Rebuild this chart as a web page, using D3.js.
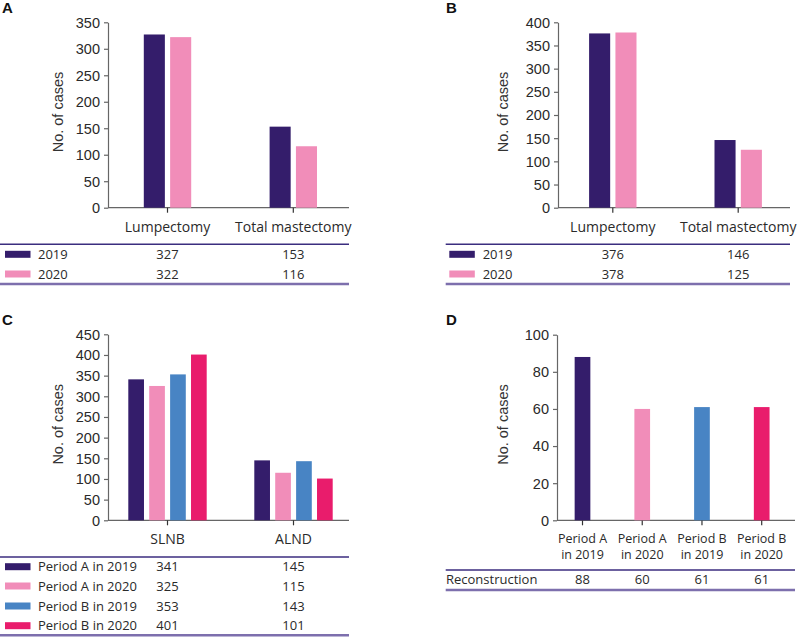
<!DOCTYPE html>
<html>
<head>
<meta charset="utf-8">
<script src="https://cdn.jsdelivr.net/npm/d3@7"></script>
<style>
  html, body { margin: 0; padding: 0; background: #fff; }
  svg { display: block; }
</style>
</head>
<body>
<svg id="chart" width="798" height="638"></svg>
<script>
// ---------- DATA ----------
const colors = ["#341d6b", "#f18db9", "#4884c4", "#e91c6c"];

const aCategories = ["Lumpectomy", "Total mastectomy"];
const aSeries = ["2019", "2020"];
const a2019 = [327, 153];
const a2020 = [322, 116];
const aTicks = [0, 50, 100, 150, 200, 250, 300, 350];

const bCategories = ["Lumpectomy", "Total mastectomy"];
const bSeries = ["2019", "2020"];
const b2019 = [376, 146];
const b2020 = [378, 125];
const bTicks = [0, 50, 100, 150, 200, 250, 300, 350, 400];

const cCategories = ["SLNB", "ALND"];
const cSeries = ["Period A in 2019", "Period A in 2020", "Period B in 2019", "Period B in 2020"];
const cPeriodA2019 = [341, 145];
const cPeriodA2020 = [325, 115];
const cPeriodB2019 = [353, 143];
const cPeriodB2020 = [401, 101];
const cTicks = [0, 50, 100, 150, 200, 250, 300, 350, 400, 450];

const dCategories = [["Period A", "in 2019"], ["Period A", "in 2020"], ["Period B", "in 2019"], ["Period B", "in 2020"]];
const dRowLabel = "Reconstruction";
const dValues = [88, 60, 61, 61];
const dTicks = [0, 20, 40, 60, 80, 100];

// ---------- DRAWING ----------
const svg = d3.select("#chart");
const axisColor = "#666";
const textColor = "#2a2a2a";
const tickFont = "'Liberation Sans', Arial, sans-serif";
const labelFont = "'Open Sans', sans-serif";
const tableSize = 13;

function panelLetter(letter, x, y) {
  svg.append("text").attr("x", x).attr("y", y)
    .attr("font-family", "'Liberation Sans', Arial, sans-serif")
    .attr("font-weight", "bold").attr("font-size", 15)
    .attr("fill", "#111").text(letter);
}

function yAxisBlock(p) {
  const y = d3.scaleLinear().domain([0, p.yMax]).range([p.y0, p.yTop]);
  const ax = d3.axisLeft(y).tickValues(p.ticks).tickSize(4).tickPadding(4).tickSizeOuter(0);
  const g = svg.append("g").attr("transform", `translate(${p.axisX},0)`).call(ax);
  g.select(".domain").attr("stroke", axisColor).attr("stroke-width", 1.2);
  g.selectAll(".tick line").attr("stroke", axisColor).attr("stroke-width", 1.2);
  g.selectAll(".tick text").attr("font-family", tickFont).attr("font-size", 14.5)
    .attr("fill", textColor).attr("dy", "0.34em");
  svg.append("text")
    .attr("transform", `translate(${p.titleX},${(p.y0 + p.yTop) / 2 - 3}) rotate(-90)`)
    .attr("text-anchor", "middle").attr("dy", "0.35em")
    .attr("font-family", tickFont).attr("font-size", 14.5).attr("fill", "#333")
    .text("No. of cases");
  return y;
}

function xAxisBlock(p, x, catKeys) {
  svg.append("line").attr("x1", p.axisX).attr("x2", p.axisEnd)
    .attr("y1", p.y0).attr("y2", p.y0)
    .attr("stroke", axisColor).attr("stroke-width", 1.2);
  svg.append("g").selectAll("line").data(catKeys).join("line")
    .attr("x1", d => x(d)).attr("x2", d => x(d))
    .attr("y1", p.y0).attr("y2", p.y0 + 5)
    .attr("stroke", "#333").attr("stroke-width", 1.2);
}

function tableLines(t) {
  svg.append("line").attr("x1", t.x1).attr("x2", t.x2).attr("y1", t.top).attr("y2", t.top)
    .attr("stroke", "#3b2d7f").attr("stroke-width", 1.5);
  svg.append("line").attr("x1", t.x1).attr("x2", t.x2).attr("y1", t.bottom).attr("y2", t.bottom)
    .attr("stroke", "#7d6fad").attr("stroke-width", 2.5);
}

function groupedPanel(p) {
  panelLetter(p.letter, p.letterX, p.letterY);
  const y = yAxisBlock(p);
  const x = d3.scalePoint().domain(p.categories).range(p.centers);
  const inner = d3.scaleBand().domain(p.series).range([-p.groupW / 2, p.groupW / 2]).paddingInner(p.pad);
  xAxisBlock(p, x, p.categories);

  const rows = p.series.map((s, i) => ({ name: s, color: colors[i], values: p.values[i] }));
  rows.forEach(r => {
    svg.append("g").selectAll("rect").data(p.categories.map((c, j) => ({ c, v: r.values[j] })))
      .join("rect")
      .attr("x", d => x(d.c) + inner(r.name))
      .attr("width", inner.bandwidth())
      .attr("y", d => y(d.v))
      .attr("height", d => p.y0 - y(d.v))
      .attr("fill", r.color);
  });

  svg.append("g").selectAll("text").data(p.categories).join("text")
    .attr("x", d => x(d)).attr("y", p.catY)
    .attr("text-anchor", "middle").attr("dy", "0.35em")
    .attr("font-family", labelFont).attr("font-size", 14).attr("fill", textColor)
    .text(d => d);

  const t = p.table;
  tableLines(t);
  rows.forEach((r, i) => {
    const ry = t.rows[i];
    svg.append("rect").attr("x", t.swX).attr("y", ry - 3.5).attr("width", 25.5).attr("height", 7)
      .attr("fill", r.color);
    svg.append("text").attr("x", t.lblX).attr("y", ry).attr("dy", "0.35em")
      .attr("font-family", labelFont).attr("font-size", tableSize).attr("fill", textColor)
      .text(r.name);
    svg.append("g").selectAll("text").data(p.categories.map((c, j) => ({ c, v: r.values[j] })))
      .join("text")
      .attr("x", d => x(d.c)).attr("y", ry).attr("dy", "0.35em")
      .attr("text-anchor", "middle")
      .attr("font-family", labelFont).attr("font-size", tableSize).attr("fill", textColor)
      .text(d => d.v);
  });
}

// Panel A
groupedPanel({
  letter: "A", letterX: 2, letterY: 13,
  axisX: 108, axisEnd: 349, yTop: 22.3, y0: 207.7, yMax: 350, ticks: aTicks, titleX: 58,
  categories: aCategories, centers: [167.5, 293.3], series: aSeries, values: [a2019, a2020],
  groupW: 47.4, pad: 0.2, catY: 226.7,
  table: { x1: 0, x2: 349, top: 244.3, bottom: 284, rows: [254.3, 274], swX: 5, lblX: 38 }
});

// Panel B
groupedPanel({
  letter: "B", letterX: 446, letterY: 13,
  axisX: 558, axisEnd: 790, yTop: 22.3, y0: 207.7, yMax: 400, ticks: bTicks, titleX: 503.3,
  categories: bCategories, centers: [612.8, 738.2], series: bSeries, values: [b2019, b2020],
  groupW: 47.4, pad: 0.2, catY: 226.7,
  table: { x1: 445.7, x2: 790, top: 244.3, bottom: 284, rows: [254.3, 274], swX: 449.3, lblX: 482.7 }
});

// Panel C
groupedPanel({
  letter: "C", letterX: 2, letterY: 325,
  axisX: 108, axisEnd: 349, yTop: 334.3, y0: 520.3, yMax: 450, ticks: cTicks, titleX: 58,
  categories: cCategories, centers: [167.5, 293.5], series: cSeries,
  values: [cPeriodA2019, cPeriodA2020, cPeriodB2019, cPeriodB2020],
  groupW: 78.4, pad: 0.25, catY: 539,
  table: { x1: 0, x2: 349, top: 557, bottom: 635.3, rows: [566.7, 586, 606, 625.7], swX: 5, lblX: 38 }
});

// Panel D
(function () {
  const p = {
    axisX: 557, axisEnd: 795, yTop: 334.7, y0: 520.3, yMax: 100, ticks: dTicks, titleX: 503.3
  };
  panelLetter("D", 446, 325);
  const y = yAxisBlock(p);
  const keys = dCategories.map(d => d.join(" "));
  const x = d3.scalePoint().domain(keys).range([582.5, 761.7]);
  xAxisBlock(p, x, keys);
  const bw = 15.7;
  svg.append("g").selectAll("rect").data(keys.map((k, i) => ({ k, v: dValues[i], c: colors[i] })))
    .join("rect")
    .attr("x", d => x(d.k) - bw / 2).attr("width", bw)
    .attr("y", d => y(d.v)).attr("height", d => p.y0 - y(d.v))
    .attr("fill", d => d.c);
  // two-line category labels, each line its own text
  dCategories.forEach((d, i) => {
    d.forEach((line, j) => {
      svg.append("text").attr("x", x(keys[i])).attr("y", 539 + j * 15.5).attr("dy", "0.35em")
        .attr("text-anchor", "middle")
        .attr("font-family", labelFont).attr("font-size", 12.5).attr("fill", textColor)
        .text(line);
    });
  });
  tableLines({ x1: 445.7, x2: 795, top: 570, bottom: 590 });
  svg.append("text").attr("x", 446).attr("y", 579.5).attr("dy", "0.35em")
    .attr("font-family", labelFont).attr("font-size", tableSize).attr("fill", textColor).text(dRowLabel);
  svg.append("g").selectAll("text").data(keys.map((k, i) => ({ k, v: dValues[i] }))).join("text")
    .attr("x", d => x(d.k)).attr("y", 579.5).attr("dy", "0.35em").attr("text-anchor", "middle")
    .attr("font-family", labelFont).attr("font-size", tableSize).attr("fill", textColor)
    .text(d => d.v);
})();
</script>
</body>
</html>
